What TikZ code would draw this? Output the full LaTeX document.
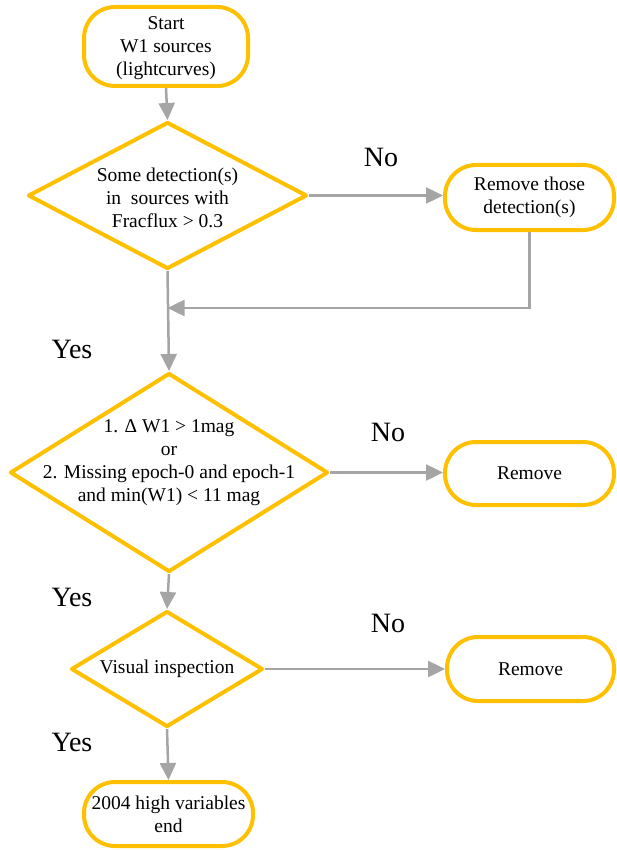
\documentclass[tikz,border=0pt]{standalone}
\usepackage{fontspec}
\setmainfont{Liberation Serif}
\usetikzlibrary{shapes.geometric,arrows.meta}
\definecolor{flowyellow}{RGB}{255,192,0}
\definecolor{flowgray}{RGB}{165,165,165}
\begin{document}
\begin{tikzpicture}[x=1pt,y=-1pt,
  pill/.style={draw=flowyellow,line width=4pt,rectangle,rounded corners=31pt,inner sep=0pt,align=center,
    font=\fontsize{19.5}{23}\selectfont},
  dia/.style={draw=flowyellow,line width=4pt,diamond,inner sep=0pt,line join=round},
  txt/.style={align=center,font=\fontsize{19.5}{23}\selectfont},
  lbl/.style={font=\fontsize{28}{30}\selectfont},
  arr/.style={draw=flowgray,line width=2.5pt,-{Triangle[length=17pt,width=16pt]}},
  ln/.style={draw=flowgray,line width=2.5pt}]
\useasboundingbox (0,0) rectangle (617,850);

\node[pill,minimum width=164pt,minimum height=79pt] (start) at (166,46.5) {};
\node[txt] (t0) at (166,48.5) {Start\\W1 sources\\(lightcurves)};

\node[dia,minimum width=279pt,minimum height=147pt] (d1) at (167.5,195.5) {};
\node[txt] (t1) at (167.5,197.5) {Some detection(s)\\ in\ \ sources with\\Fracflux > 0.3};

\node[pill,minimum width=169pt,minimum height=65pt] (rmd) at (529.5,197.5) {Remove those\\detection(s)};

\coordinate (j) at (167.5,308);

\node[dia,minimum width=318pt,minimum height=199pt] (d2) at (169,472.5) {};
\node[txt] (t2) at (169,463) {1. Δ W1 > 1mag\\or\\2. Missing epoch-0 and epoch-1\\and min(W1) < 11 mag};

\node[pill,minimum width=169pt,minimum height=63pt] (rm1) at (529.5,473.5) {Remove};

\node[dia,minimum width=192pt,minimum height=116pt] (d3) at (167,669) {};
\node[txt] (t3) at (d3) {Visual inspection};

\node[pill,minimum width=167pt,minimum height=64pt] (rm2) at (530.5,669) {Remove};

\node[pill,minimum width=169pt,minimum height=64pt] (end) at (168.5,814) {2004 high variables\\end};

\node[lbl] (no1) at (381,157) {No};
\node[lbl] (yes1) at (72,349) {Yes};
\node[lbl] (no2) at (388,432) {No};
\node[lbl] (yes2) at (72,597) {Yes};
\node[lbl] (no3) at (388,623) {No};
\node[lbl] (yes3) at (72,742) {Yes};

\draw[arr] (start.south) -- (d1.north);
\draw[arr] (d1.east) -- (d1.east -| rmd.west);
\draw[arr] (rmd.south) |- (j);
\draw[arr] (d1.south) -- (d2.north);
\draw[arr] (d2.east) -- (d2.east -| rm1.west);
\draw[arr] (d2.south) -- (d3.north);
\draw[arr] (d3.east) -- (d3.east -| rm2.west);
\draw[arr] (d3.south) -- (end.north);
\end{tikzpicture}
\end{document}
